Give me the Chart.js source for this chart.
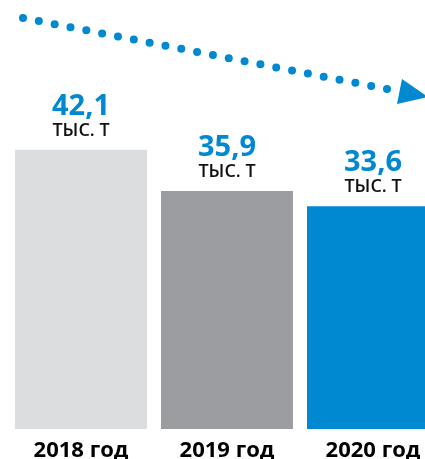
<!DOCTYPE html>
<html>
<head>
<meta charset="utf-8">
<script src="https://cdn.jsdelivr.net/npm/chart.js@4/dist/chart.umd.min.js"></script>
<style>
  html, body { margin: 0; padding: 0; background: #fff; overflow: hidden; }
  #wrap { width: 454px; height: 459px; }
</style>
</head>
<body>
<div id="wrap"><canvas id="volumeChart" width="454" height="459"></canvas></div>
<script>
// Объём, тыс. т
const years = ['2018 год', '2019 год', '2020 год'];
const volumes = [42.1, 35.9, 33.6];
const valueLabels = ['42,1', '35,9', '33,6'];
const unitLabel = 'ТЫС. Т';
const barColors = ['#dcdddf', '#9c9da1', '#0088d1'];

const BLUE = '#0088d1';

// labels above bars + year captions under them
const labelPlugin = {
    id: 'barLabels',
    afterDatasetsDraw(chart) {
        const ctx = chart.ctx;
        const meta = chart.getDatasetMeta(0);
        ctx.save();
        ctx.textAlign = 'center';
        ctx.textBaseline = 'alphabetic';
        meta.data.forEach((bar, i) => {
            ctx.fillStyle = BLUE;
            ctx.font = 'bold 29px "Open Sans"';
            ctx.fillText(valueLabels[i], bar.x, bar.y - 35);
            ctx.fillStyle = '#111';
            ctx.font = '600 18px "Open Sans"';
            ctx.fillText(unitLabel, bar.x, bar.y - 14);
            ctx.fillStyle = '#000';
            ctx.font = 'bold 22px "Open Sans"';
            ctx.fillText(years[i], bar.x, chart.chartArea.bottom + 28);
        });
        ctx.restore();
    }
};

// dotted trend arrow across the top
const arrowPlugin = {
    id: 'trendArrow',
    afterDraw(chart) {
        const ctx = chart.ctx;
        const x0 = 23, y0 = 18, x1 = 387, y1 = 89;
        const n = 24;
        ctx.save();
        ctx.fillStyle = BLUE;
        for (let i = 0; i < n; i++) {
            const t = i / (n - 1);
            ctx.beginPath();
            ctx.arc(x0 + (x1 - x0) * t, y0 + (y1 - y0) * t, 4, 0, Math.PI * 2);
            ctx.fill();
        }
        ctx.beginPath();
        ctx.moveTo(397, 104);
        ctx.lineTo(402, 79);
        ctx.lineTo(428, 97);
        ctx.closePath();
        ctx.fill();
        ctx.restore();
    }
};

const ctx = document.getElementById('volumeChart').getContext('2d');
new Chart(ctx, {
    type: 'bar',
    data: {
        labels: years,
        datasets: [{
            data: volumes,
            backgroundColor: barColors,
            borderWidth: 0,
            barPercentage: 0.904,
            categoryPercentage: 1.0
        }]
    },
    options: {
        responsive: false,
        animation: false,
        layout: { padding: { left: 8, right: 8, top: 0, bottom: 30 } },
        plugins: {
            legend: { display: false },
            tooltip: { enabled: false }
        },
        scales: {
            x: { display: false, offset: true },
            y: { display: false, min: 0, max: 64.7 }
        }
    },
    plugins: [labelPlugin, arrowPlugin]
});
</script>
</body>
</html>
